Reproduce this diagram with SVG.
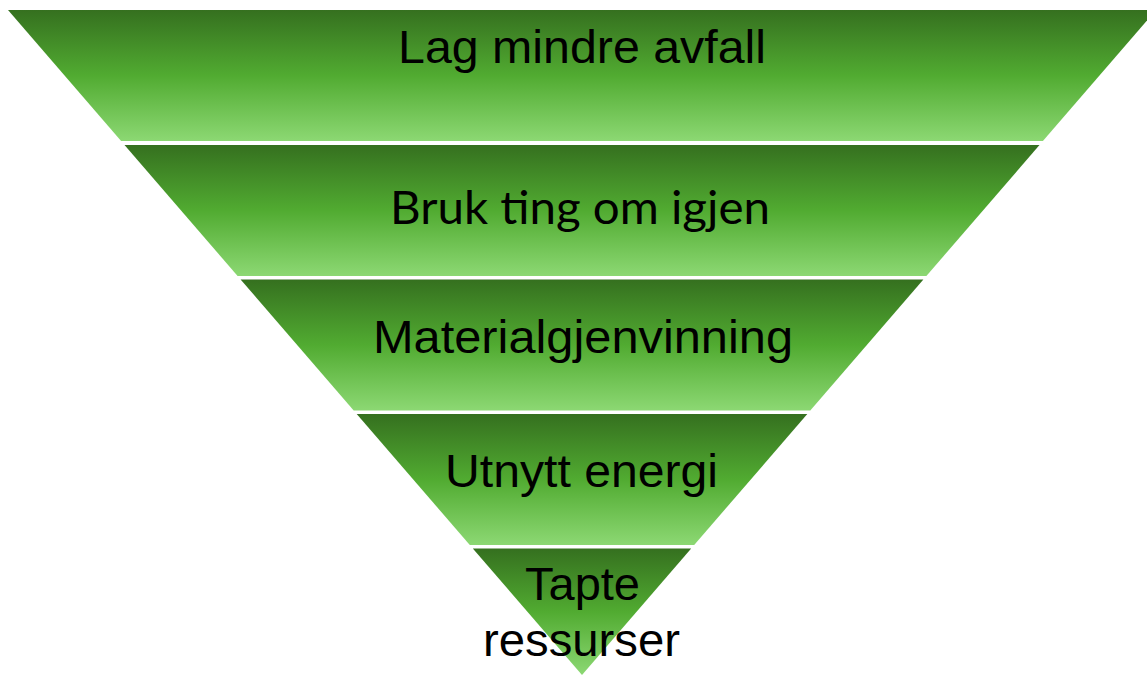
<svg xmlns="http://www.w3.org/2000/svg" width="1147" height="675" viewBox="0 0 1147 675">
  <defs>
    <linearGradient id="g" x1="0" y1="0" x2="0" y2="1">
      <stop offset="0" stop-color="#35701f"/>
      <stop offset="0.5" stop-color="#51ab31"/>
      <stop offset="1" stop-color="#8cd873"/>
    </linearGradient>
    <style>
      .band { fill: url(#g); }
      .lbl { font-family: "Liberation Sans", Arial, sans-serif; font-size: 47px; fill: #000; text-anchor: middle; }
      .lato { font-family: Lato, "Liberation Sans", sans-serif; }
    </style>
  </defs>
  <rect width="1147" height="675" fill="#fff"/>
  <g id="band1">
    <polygon class="band" points="8,10 1156,10 1042.9,141 121.1,141"/>
    <text class="lbl" x="582" y="63" textLength="368" lengthAdjust="spacingAndGlyphs">Lag mindre avfall</text>
  </g>
  <g id="band2">
    <polygon class="band" points="124.5,145 1039.5,145 926.4,276 237.6,276"/>
    <text class="lbl lato" x="580" y="224" textLength="380" lengthAdjust="spacingAndGlyphs">Bruk ting om igjen</text>
  </g>
  <g id="band3">
    <polygon class="band" points="240.6,279.5 923.4,279.5 810.3,410.5 353.7,410.5"/>
    <text class="lbl" x="583" y="353" textLength="420" lengthAdjust="spacingAndGlyphs">Materialgjenvinning</text>
  </g>
  <g id="band4">
    <polygon class="band" points="356.7,414 807.3,414 694.2,545 469.8,545"/>
    <text class="lbl" x="581.5" y="487" textLength="273" lengthAdjust="spacingAndGlyphs">Utnytt energi</text>
  </g>
  <g id="band5">
    <polygon class="band" points="472.8,548.5 691.2,548.5 582,675"/>
    <text class="lbl" x="582.5" y="600" textLength="115" lengthAdjust="spacingAndGlyphs">Tapte</text>
    <text class="lbl" x="581.5" y="656" textLength="197" lengthAdjust="spacingAndGlyphs">ressurser</text>
  </g>
  <g id="connectors"/>
</svg>
